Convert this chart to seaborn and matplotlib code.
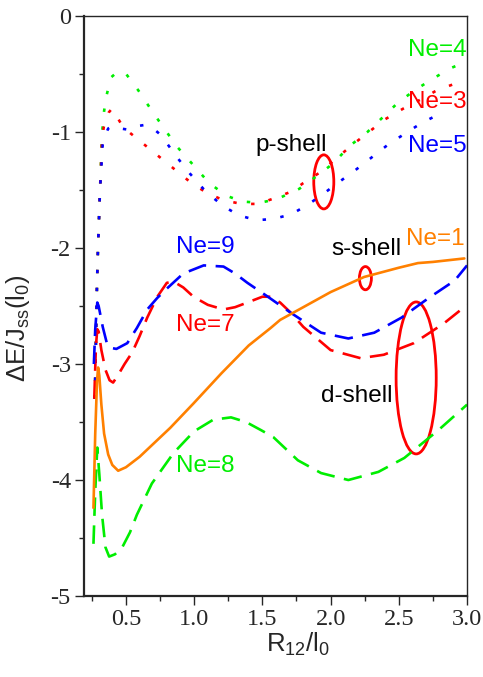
import numpy as np
import pandas as pd
import matplotlib
matplotlib.use('Agg')
import matplotlib.pyplot as plt
from matplotlib.patches import Ellipse
import seaborn as sns

# curves: R12/l0 vs dE/Jss(l0)
# s-shell
ne1_x = [0.262, 0.275, 0.288, 0.296, 0.305, 0.32, 0.34, 0.37, 0.40, 0.443, 0.50, 0.60, 0.654,
         0.825, 0.995, 1.2, 1.4, 1.56, 1.63, 1.8, 2.0, 2.245, 2.5, 2.64, 2.75, 2.98]
ne1_y = [-4.24, -3.6, -3.15, -3.03, -3.1, -3.35, -3.6, -3.78, -3.87, -3.92, -3.89, -3.80, -3.74,
         -3.55, -3.34, -3.08, -2.84, -2.69, -2.62, -2.51, -2.38, -2.25, -2.17, -2.13, -2.12, -2.09]

# p-shell (dotted)
ne4_x = [0.272, 0.28, 0.288, 0.296, 0.31, 0.325, 0.34, 0.355, 0.39, 0.44, 0.495, 0.59, 0.686, 0.78,
         0.877, 0.99, 1.11, 1.237, 1.355, 1.48, 1.605, 1.77, 1.91, 2.02, 2.14, 2.27, 2.385, 2.50,
         2.63, 2.75, 2.88, 3.0]
ne4_y = [-3.3, -2.8, -2.3, -1.97, -1.50, -1.01, -0.82, -0.70, -0.53, -0.48, -0.49, -0.64, -0.81, -0.97,
         -1.13, -1.28, -1.44, -1.55, -1.60, -1.61, -1.58, -1.49, -1.37, -1.27, -1.12, -1.0, -0.87, -0.74,
         -0.63, -0.54, -0.45, -0.39]

ne3_x = [0.272, 0.28, 0.288, 0.296, 0.31, 0.325, 0.34, 0.352, 0.375, 0.397, 0.44, 0.48, 0.605, 0.73,
         0.855, 0.98, 1.10, 1.22, 1.348, 1.47, 1.59, 1.72, 1.80, 1.92, 2.04, 2.16, 2.28, 2.40, 2.53,
         2.66, 2.78, 2.92]
ne3_y = [-3.3, -2.8, -2.3, -1.97, -1.5, -1.05, -0.94, -0.90, -0.83, -0.80, -0.88, -0.96, -1.08, -1.20,
         -1.32, -1.44, -1.53, -1.59, -1.62, -1.62, -1.57, -1.51, -1.44, -1.35, -1.23, -1.11, -1.0, -0.89,
         -0.80, -0.72, -0.64, -0.58]

ne5_x = [0.272, 0.28, 0.288, 0.296, 0.31, 0.33, 0.34, 0.37, 0.40, 0.46, 0.517, 0.58, 0.634, 0.70,
         0.76, 0.862, 0.97, 1.09, 1.215, 1.33, 1.458, 1.58, 1.71, 1.83, 1.95, 2.075, 2.18, 2.30, 2.42,
         2.55, 2.67, 2.79]
ne5_y = [-3.3, -2.8, -2.3, -1.97, -1.5, -1.1, -1.05, -0.97, -0.95, -0.97, -0.98, -0.95, -0.94, -0.97,
         -1.03, -1.20, -1.36, -1.52, -1.64, -1.72, -1.76, -1.75, -1.71, -1.63, -1.53, -1.42, -1.33, -1.22,
         -1.11, -1.01, -0.92, -0.85]

# d-shell (dashed)
ne7_x = [0.268, 0.28, 0.29, 0.30, 0.32, 0.35, 0.38, 0.406, 0.44, 0.49, 0.546, 0.6, 0.656, 0.73, 0.80,
         0.85, 0.92, 0.995, 1.1, 1.215, 1.3, 1.39, 1.5, 1.56, 1.63, 1.71, 1.80, 2.0, 2.22, 2.39, 2.61,
         2.83, 3.0]
ne7_y = [-3.3, -2.85, -2.7, -2.72, -2.88, -3.05, -3.14, -3.16, -3.10, -3.0, -2.90, -2.76, -2.60, -2.42,
         -2.30, -2.29, -2.34, -2.42, -2.49, -2.53, -2.51, -2.47, -2.42, -2.42, -2.47, -2.56, -2.68, -2.88,
         -2.95, -2.92, -2.82, -2.65, -2.49]

ne9_x = [0.265, 0.275, 0.29, 0.30, 0.33, 0.36, 0.385, 0.43, 0.51, 0.58, 0.656, 0.73, 0.80, 0.92, 1.07,
         1.215, 1.3, 1.39, 1.54, 1.71, 1.93, 2.13, 2.32, 2.52, 2.72, 2.91, 3.0]
ne9_y = [-3.0, -2.7, -2.47, -2.5, -2.68, -2.82, -2.86, -2.87, -2.82, -2.69, -2.53, -2.43, -2.35, -2.22,
         -2.15, -2.16, -2.22, -2.30, -2.42, -2.56, -2.73, -2.78, -2.73, -2.60, -2.43, -2.28, -2.15]

ne8_x = [0.262, 0.275, 0.29, 0.305, 0.325, 0.35, 0.377, 0.42, 0.473, 0.53, 0.58, 0.69, 0.847, 0.935,
         1.0, 1.14, 1.27, 1.38, 1.49, 1.58, 1.76, 1.93, 2.13, 2.35, 2.54, 2.79, 3.0]
ne8_y = [-4.55, -4.1, -3.72, -3.95, -4.3, -4.58, -4.66, -4.64, -4.58, -4.45, -4.30, -4.03, -3.77, -3.66,
         -3.58, -3.48, -3.46, -3.5, -3.57, -3.63, -3.83, -3.94, -4.0, -3.93, -3.81, -3.57, -3.35]

green = '#00ee00'
red = '#ff0000'
blue = '#0000ff'
orange = '#ff8000'

sns.set_style('ticks')
plt.rcParams['font.family'] = ['Liberation Sans', 'DejaVu Sans']
plt.rcParams['mathtext.default'] = 'regular'
plt.rcParams['axes.unicode_minus'] = False

fig = plt.figure(figsize=(4.83, 6.77), dpi=100)
ax = fig.add_axes([0.174, 0.1196, 0.793, 0.8568])

dotted = (0, (1.3, 5.5))
dashed = (0, (7, 3.6))
lw = 1.9

curves = [
    (ne4_x, ne4_y, green, dotted),
    (ne3_x, ne3_y, red, dotted),
    (ne5_x, ne5_y, blue, dotted),
    (ne8_x, ne8_y, green, dashed),
    (ne7_x, ne7_y, red, dashed),
    (ne9_x, ne9_y, blue, dashed),
    (ne1_x, ne1_y, orange, '-'),
]
for xs, ys, c, ls in curves:
    sns.lineplot(x=xs, y=ys, ax=ax, color=c, linestyle=ls, linewidth=lw,
                 estimator=None, sort=False)

# shell markers
for cx, cy, w, h in [(1.95, -1.43, 0.147, 0.466), (2.255, -2.26, 0.088, 0.2),
                     (2.627, -3.12, 0.294, 1.31)]:
    ax.add_patch(Ellipse((cx, cy), w, h, fill=False, edgecolor=red, linewidth=2.0))

fs = 17.5
ax.text(2.995, -0.293, 'Ne=4', color=green, fontsize=fs, ha='right', va='center')
ax.text(2.995, -0.74, 'Ne=3', color=red, fontsize=fs, ha='right', va='center')
ax.text(2.995, -1.12, 'Ne=5', color=blue, fontsize=fs, ha='right', va='center')
ax.text(1.708, -1.11, 'p-shell', color='black', fontsize=fs, ha='center', va='center')
ax.text(2.259, -2.01, 's-shell', color='black', fontsize=fs, ha='center', va='center')
ax.text(2.98, -1.92, 'Ne=1', color=orange, fontsize=fs, ha='right', va='center')
ax.text(1.083, -1.99, 'Ne=9', color=blue, fontsize=fs, ha='center', va='center')
ax.text(1.083, -2.66, 'Ne=7', color=red, fontsize=fs, ha='center', va='center')
ax.text(2.193, -3.28, 'd-shell', color='black', fontsize=fs, ha='center', va='center')
ax.text(1.083, -3.88, 'Ne=8', color=green, fontsize=fs, ha='center', va='center')

ax.set_xlim(0.193, 3.0)
ax.set_ylim(-5, 0)
ax.set_xticks([0.5, 1.0, 1.5, 2.0, 2.5, 3.0])
ax.set_xticklabels(['0.5', '1.0', '1.5', '2.0', '2.5', '3.0'])
ax.set_xticks(np.arange(0.25, 3.0, 0.25), minor=True)
ax.set_yticks([0, -1, -2, -3, -4, -5])
ax.set_yticklabels(['0', '-1', '-2', '-3', '-4', '-5'])
ax.set_yticks(np.arange(-4.5, 0, 1.0), minor=True)
ax.tick_params(which='major', direction='out', length=6.5, width=1.0, labelsize=17.5, pad=3)
ax.tick_params(which='minor', direction='out', length=3.5, width=1.0)
for lab in ax.get_xticklabels() + ax.get_yticklabels():
    lab.set_fontfamily('Liberation Serif')

for s in ['left', 'bottom']:
    ax.spines[s].set_linewidth(1.6)
for s in ['top', 'right']:
    ax.spines[s].set_linewidth(1.0)
    ax.spines[s].set_visible(True)

ax.set_xlabel('R$_{12}$/l$_0$', fontsize=18.5, labelpad=2)
ax.xaxis.set_label_coords(0.56, -0.06)
ax.set_ylabel('ΔE/J$_{ss}$(l$_0$)', fontsize=18.5)
ax.yaxis.set_label_coords(-0.135, 0.462)

fig.savefig('out.png', dpi=100)
